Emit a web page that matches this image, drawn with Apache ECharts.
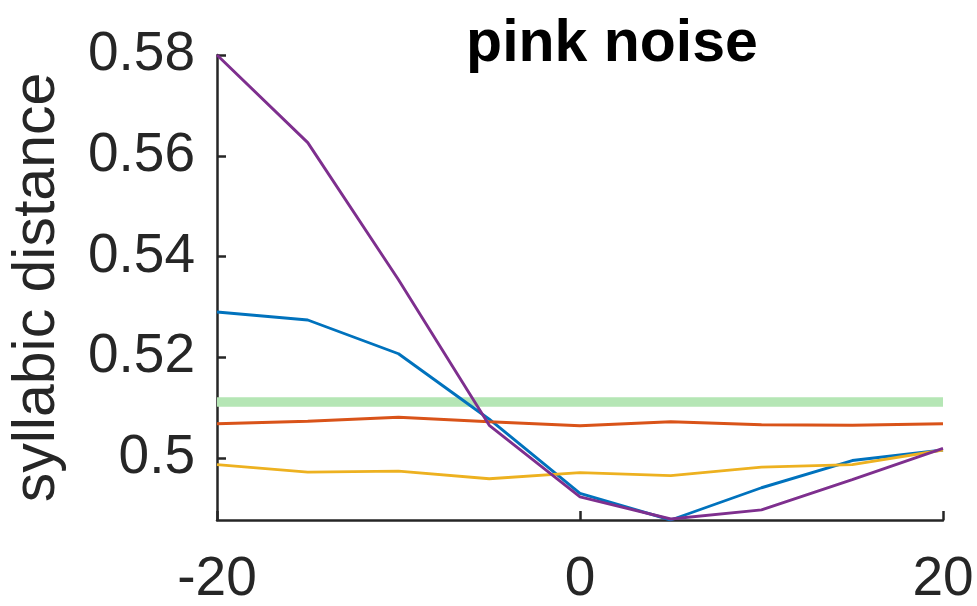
<!DOCTYPE html>
<html>
<head>
<meta charset="utf-8">
<script src="https://cdn.jsdelivr.net/npm/echarts@6/dist/echarts.min.js"></script>
<style>
html,body{margin:0;padding:0;background:#fff;}
#chart{width:977px;height:606px;}
</style>
</head>
<body>
<div id="chart"></div>
<script>
// SNR categories (x values)
var snr = [-20, -15, -10, -5, 0, 5, 10, 15, 20];
// series values
var blueVals   = [0.5290, 0.5274, 0.5207, 0.5077, 0.4930, 0.4877, 0.4941, 0.4995, 0.5016];
var orangeVals = [0.5068, 0.5073, 0.5081, 0.5072, 0.5064, 0.5072, 0.5066, 0.5065, 0.5068];
var yellowVals = [0.4987, 0.4972, 0.4974, 0.4959, 0.4971, 0.4965, 0.4982, 0.4987, 0.5016];
var purpleVals = [0.5800, 0.5626, 0.5354, 0.5065, 0.4923, 0.4879, 0.4897, 0.4957, 0.5019];
var baselineX = [-20, 20];
var baselineVal = 0.5111;
// tick labels
var yTicks = [0.5, 0.52, 0.54, 0.56, 0.58];
var xTicks = [-20, 0, 20];

function pairs(xs, ys) { return xs.map(function (x, i) { return [x, ys[i]]; }); }

var chart = echarts.init(document.getElementById('chart'));
var txt = '#262626';
var font = '"Liberation Sans", Arial, Helvetica, sans-serif';

chart.setOption({
  backgroundColor: '#ffffff',
  animation: false,
  title: {
    text: 'pink noise',
    left: 607, top: 10, textAlign: 'center',
    textStyle: { fontFamily: font, fontSize: 59, fontWeight: 'bold', color: '#000' }
  },
  grid: { left: 217, right: 34, top: 55, bottom: 86, containLabel: false, outerBoundsMode: 'none' },
  xAxis: {
    type: 'value', min: -20, max: 20, interval: 20,
    axisLine: { show: true, onZero: false, lineStyle: { color: txt, width: 2.5 } },
    axisTick: { show: true, inside: true, length: 9, lineStyle: { color: txt, width: 2.5 }, customValues: xTicks },
    axisLabel: { color: txt, fontSize: 55, fontFamily: font, margin: 32, customValues: xTicks, hideOverlap: false },
    splitLine: { show: false }
  },
  yAxis: {
    type: 'value', min: 0.4877, max: 0.58,
    name: 'syllabic distance', nameLocation: 'middle', nameGap: 150,
    nameTextStyle: { color: txt, fontSize: 59, fontFamily: font },
    axisLine: { show: true, onZero: false, lineStyle: { color: txt, width: 2.5 } },
    axisTick: { show: true, inside: true, length: 9, lineStyle: { color: txt, width: 2.5 }, customValues: yTicks },
    axisLabel: { color: txt, fontSize: 55, fontFamily: font, margin: 22, customValues: yTicks,
      formatter: function (v) { return String(+v.toFixed(2)); } },
    splitLine: { show: false }
  },
  series: [
    { type: 'line', data: pairs(baselineX, [baselineVal, baselineVal]), showSymbol: false,
      lineStyle: { color: '#b5e6b5', width: 9.5 }, z: 1 },
    { type: 'line', data: pairs(snr, blueVals), showSymbol: false, lineStyle: { color: '#0072BD', width: 2.9 }, z: 2 },
    { type: 'line', data: pairs(snr, orangeVals), showSymbol: false, lineStyle: { color: '#D95319', width: 2.9 }, z: 2 },
    { type: 'line', data: pairs(snr, yellowVals), showSymbol: false, lineStyle: { color: '#EDB120', width: 2.9 }, z: 2 },
    { type: 'line', data: pairs(snr, purpleVals), showSymbol: false, lineStyle: { color: '#7E2F8E', width: 2.9 }, z: 2 }
  ]
});
</script>
</body>
</html>
